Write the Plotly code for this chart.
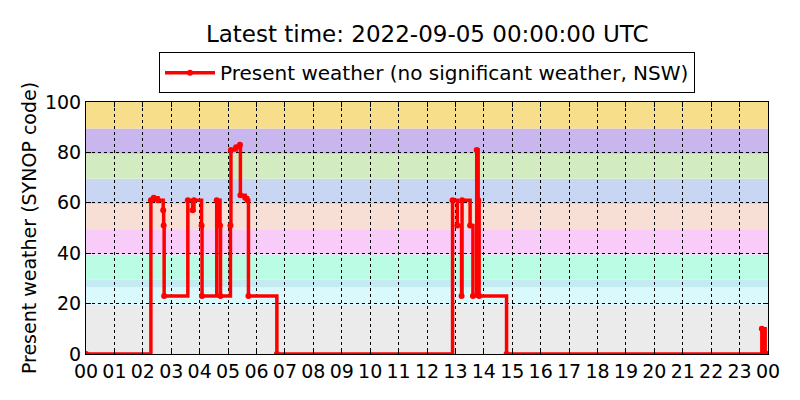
import pandas as pd
import plotly.graph_objects as go

# Observation times (UTC, 2022-09-04) and present-weather codes at each change
obs_times = [
    "00:00", "02:17", "02:23", "02:32", "02:43", "02:44", "02:45",
    "03:35", "03:45", "03:48", "04:04", "04:05",
    "04:36", "04:43", "04:44",
    "05:05", "05:06", "05:17", "05:25", "05:26", "05:36", "05:41", "05:43",
    "06:43",
    "12:54", "13:04", "13:13", "13:14", "13:31", "13:37", "13:45", "13:48", "13:50",
    "14:48",
    "23:47", "23:54",
]
obs_codes = [
    0, 61, 62, 61, 57, 51, 23,
    61, 57, 61, 51, 23,
    61, 51, 23,
    51, 81, 82, 83, 63, 62, 61, 23,
    0,
    61, 51, 23, 61, 51, 23, 81, 61, 23,
    0,
    10, 0,
]

# SYNOP code bands shaded behind the series
band_lo = [-0.5, 19.5, 26.5, 29.5, 39.5, 49.5, 59.5, 69.5, 79.5, 89.5]
band_hi = [19.5, 26.5, 29.5, 39.5, 49.5, 59.5, 69.5, 79.5, 89.5, 100.5]
band_colors = ["#ebebeb", "#d9f9fd", "#c4ebf2", "#bbfde4", "#f9cbf9",
               "#f7dfd5", "#c8d6f4", "#d3ebc0", "#c9b6ec", "#f6de8b"]

day = pd.Timestamp("2022-09-04")
x = [day + pd.Timedelta(t + ":00") for t in obs_times]
x.append(day + pd.Timedelta(days=1))
y = obs_codes + [obs_codes[-1]]

fig = go.Figure()

fig.add_trace(go.Scatter(
    x=x,
    y=y,
    mode="lines+markers",
    line=dict(color="red", width=3.5, shape="hv"),
    marker=dict(color="red", size=6),
    name="Present weather (no significant weather, NSW)",
))

for lo, hi, col in zip(band_lo, band_hi, band_colors):
    fig.add_shape(type="rect", xref="paper", yref="y", x0=0, x1=1, y0=lo, y1=hi,
                  fillcolor=col, line_width=0, layer="below")

axis_common = dict(
    showline=True, linecolor="black", linewidth=1, mirror="ticks",
    ticks="inside", ticklen=5, tickcolor="black",
    showgrid=True, gridcolor="black", griddash="dot", gridwidth=1,
    zeroline=False, tickfont=dict(size=19, color="black"), automargin=False,
)

# page is drawn with an 8px offset, so margins are trimmed by that much
fig.update_layout(
    width=800, height=400,
    margin=dict(l=78, r=40, t=94, b=54),
    paper_bgcolor="white", plot_bgcolor="white",
    font=dict(family="DejaVu Sans", color="black"),
    title=dict(text="Latest time: 2022-09-05 00:00:00 UTC", x=0.524, xanchor="center",
               y=0.935, yanchor="middle", font=dict(size=23), automargin=False),
    showlegend=True,
    legend=dict(orientation="h", x=0.5, xanchor="center", y=1.035, yanchor="bottom",
                bordercolor="black", borderwidth=1, bgcolor="white",
                font=dict(size=20), itemwidth=50),
    xaxis=dict(axis_common, range=[day, day + pd.Timedelta(days=1)],
               dtick=3600000, tickformat="%H", layer="above traces"),
    yaxis=dict(axis_common, range=[0, 100], dtick=20,
               title=dict(text="Present weather (SYNOP code)", font=dict(size=19), standoff=3)),
)

fig.write_html("out.html")
